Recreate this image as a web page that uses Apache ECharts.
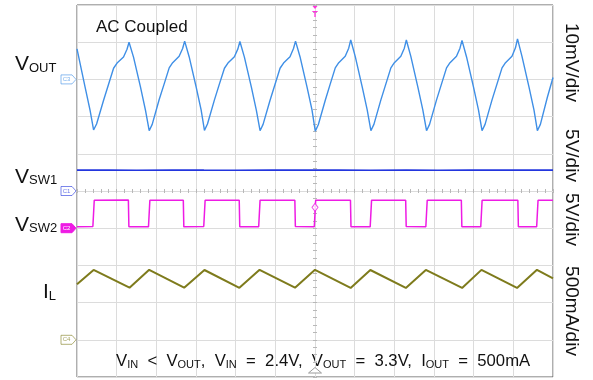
<!DOCTYPE html>
<html><head><meta charset="utf-8">
<script src="https://cdn.jsdelivr.net/npm/echarts@6/dist/echarts.min.js"></script>
<style>html,body{margin:0;padding:0;background:#fff}#c{width:593px;height:380px}</style>
</head><body><div id="c"></div>
<script>
// ---- data (time in horizontal divisions, trigger at t = 0) ----
// VOUT ripple, AC coupled, mV
const vout_mV = [
  [-6.000, 8.2], [-5.796, -2.1], [-5.670, -8.3],
  [-5.582, -13.6], [-5.506, -12.0], [-5.330, -5.6], [-5.204, -1.3], [-5.078, 3.0], [-4.990, 4.4], [-4.827, 6.0], [-4.739, 8.1], [-4.688, 10.0], [-4.575, 6.0], [-4.399, -2.1], [-4.273, -8.3],
  [-4.180, -13.8], [-4.104, -12.1], [-3.928, -5.4], [-3.802, -1.2], [-3.676, 3.1], [-3.588, 4.5], [-3.425, 6.2], [-3.337, 8.3], [-3.286, 10.3], [-3.173, 6.1], [-2.997, -2.0], [-2.871, -8.2],
  [-2.787, -13.7], [-2.711, -12.0], [-2.535, -5.5], [-2.409, -1.2], [-2.283, 3.0], [-2.195, 4.4], [-2.032, 6.1], [-1.944, 8.2], [-1.893, 10.2], [-1.780, 6.0], [-1.604, -2.1], [-1.478, -8.3],
  [-1.385, -13.8], [-1.309, -12.1], [-1.133, -5.6], [-1.007, -1.3], [-0.881, 3.0], [-0.793, 4.4], [-0.630, 6.1], [-0.542, 8.3], [-0.491, 10.3], [-0.378, 6.1], [-0.202, -2.0], [-0.076, -8.2],
  [0.007, -13.9], [0.083, -12.2], [0.259, -5.6], [0.385, -1.2], [0.511, 3.1], [0.599, 4.5], [0.762, 6.2], [0.850, 8.4], [0.901, 10.6], [1.014, 6.2], [1.190, -2.0], [1.316, -8.2],
  [1.409, -13.8], [1.485, -12.1], [1.661, -5.5], [1.787, -1.2], [1.913, 3.1], [2.001, 4.5], [2.164, 6.2], [2.252, 8.4], [2.303, 10.6], [2.416, 6.2], [2.592, -2.0], [2.718, -8.2],
  [2.812, -13.8], [2.888, -12.1], [3.064, -5.5], [3.190, -1.2], [3.316, 3.1], [3.404, 4.5], [3.567, 6.2], [3.655, 8.4], [3.706, 10.5], [3.819, 6.1], [3.995, -2.0], [4.121, -8.2],
  [4.211, -13.8], [4.287, -12.1], [4.463, -5.5], [4.589, -1.2], [4.715, 3.1], [4.803, 4.5], [4.966, 6.2], [5.054, 8.5], [5.105, 10.9], [5.218, 6.2], [5.394, -2.0], [5.520, -8.2],
  [5.606, -13.8], [5.682, -12.1], [5.858, -4.8], [6.000, 0.5]
];
// VSW1, V
const vsw1_V = [
  [-6.0, 2.80], [-5.2, 2.82], [-4.5, 2.79], [-3.6, 2.83], [-2.8, 2.80], [-2.0, 2.78], [-1.1, 2.82], [-0.3, 2.80],
  [0.6, 2.83], [1.4, 2.79], [2.3, 2.81], [3.1, 2.79], [3.9, 2.83], [4.8, 2.80], [5.5, 2.82], [6.0, 2.80]
];
// VSW2, V
const vsw2_V = [
  [-6.000, 0.20],
  [-5.600, 0.22], [-5.565, 3.75], [-4.705, 3.78], [-4.692, 0.20],
  [-4.198, 0.18], [-4.163, 3.76], [-3.320, 3.74], [-3.307, 0.18],
  [-2.805, 0.22], [-2.770, 3.76], [-1.910, 3.77], [-1.897, 0.20],
  [-1.420, 0.19], [-1.385, 3.74], [-0.508, 3.76], [-0.495, 0.22],
  [-0.018, 0.20], [0.017, 3.76], [0.894, 3.75], [0.907, 0.20],
  [1.391, 0.18], [1.426, 3.77], [2.286, 3.76], [2.299, 0.24],
  [2.794, 0.20], [2.829, 3.75], [3.689, 3.76], [3.702, 0.20],
  [4.178, 0.18], [4.213, 3.75], [5.114, 3.76], [5.127, 0.20],
  [5.588, 0.20], [5.623, 3.75], [6.000, 3.76]
];
// IL, mA
const il_mA = [
  [-6.000, 747], [-5.582, 939], [-4.676, 700], [-4.180, 940], [-3.299, 700], [-2.787, 938],
  [-1.906, 698], [-1.397, 940], [-0.504, 700], [0.000, 940], [0.898, 697], [1.395, 938],
  [2.290, 697], [2.794, 939], [3.708, 697], [4.196, 940], [5.093, 697], [5.596, 940], [6.000, 824]
];
const trigLevel_V = 2.8;
const channelNames = [['V', 'OUT'], ['V', 'SW1'], ['V', 'SW2'], ['I', 'L']];
const scaleTexts = ['10mV/div', '5V/div', '5V/div', '500mA/div'];
const noteText = 'AC Coupled';

// ---- display settings ----
const FONT = '"Liberation Sans", Arial, Helvetica, sans-serif';
const CH = {
  vout: { scale: 10, offset: 3, color: '#3f8fe6', tag: 'C3' },
  vsw1: { scale: 5, offset: 0, color: '#2336de', tag: 'C1' },
  vsw2: { scale: 5, offset: -1, color: '#ee1be4', tag: 'C2' },
  il:   { scale: 500, offset: -4, color: '#7e7b1c', tag: 'C4' }
};
const toDiv = (arr, ch) => arr.map(p => [p[0], p[1] / ch.scale + ch.offset]);

const chart = echarts.init(document.getElementById('c'), null, { renderer: 'canvas' });

const tickStyle = { color: '#b8b8b8', width: 1 };
const gridLine = { color: '#dcdcdc', width: 1 };
function xAx(pos, split) {
  return {
    type: 'value', min: -6, max: 6, interval: 1, position: pos,
    axisLabel: { show: false },
    axisLine: { show: true, onZero: true, lineStyle: gridLine },
    axisTick: { show: true, length: 2, lineStyle: tickStyle },
    minorTick: { show: true, splitNumber: 5, length: 2, lineStyle: tickStyle },
    splitLine: { show: split, lineStyle: gridLine },
    minorSplitLine: { show: false }
  };
}
function yAx(pos, split) {
  return {
    type: 'value', min: -5, max: 5, interval: 1, position: pos,
    axisLabel: { show: false },
    axisLine: { show: true, onZero: true, lineStyle: gridLine },
    axisTick: { show: true, length: 2, lineStyle: tickStyle },
    minorTick: { show: true, splitNumber: 5, length: 2, lineStyle: tickStyle },
    splitLine: { show: split, lineStyle: gridLine }
  };
}

chart.setOption({
  animation: false,
  backgroundColor: '#ffffff',
  grid: { left: 77, right: 40, top: 5, bottom: 3, show: true, borderColor: '#5e5e5e', borderWidth: 1, backgroundColor: '#ffffff' },
  xAxis: [xAx('bottom', true), xAx('top', false)],
  yAxis: [yAx('left', true), yAx('right', false)],
  series: [
    { type: 'line', data: toDiv(vout_mV, CH.vout), showSymbol: false, lineStyle: { color: CH.vout.color, width: 1.4 }, z: 3 },
    { type: 'line', data: toDiv(vsw1_V, CH.vsw1), showSymbol: false, lineStyle: { color: CH.vsw1.color, width: 1.6 }, z: 3 },
    { type: 'line', data: toDiv(vsw2_V, CH.vsw2), showSymbol: false, lineStyle: { color: CH.vsw2.color, width: 1.5 }, z: 3 },
    { type: 'line', data: toDiv(il_mA, CH.il), showSymbol: false, lineStyle: { color: CH.il.color, width: 2 }, z: 3 },
    { type: 'scatter', data: toDiv([[0, trigLevel_V]], CH.vsw2), symbol: 'diamond', symbolSize: [6, 8],
      itemStyle: { color: '#ffffff', borderColor: CH.vsw2.color, borderWidth: 1 }, z: 5 }
  ]
});

const px = v => chart.convertToPixel({ gridIndex: 0 }, v);
const g = [];
// note text
g.push({ type: 'text', x: 96, y: 27, style: { text: noteText, font: '17px ' + FONT, fill: '#111', textVerticalAlign: 'middle' } });

// channel names (left)
const nameRich = {
  m: { fontSize: 21, lineHeight: 24, verticalAlign: 'bottom', fontFamily: FONT, color: '#111' },
  s: { fontSize: 13, lineHeight: 14, verticalAlign: 'bottom', fontFamily: FONT, color: '#111' }
};
const nameY = [62.7, 175.4, 223.4, 291];
const nameX = [15, 15, 15, 43];
channelNames.forEach((n, i) => {
  g.push({ type: 'text', x: nameX[i], y: nameY[i], style: { text: '{m|' + n[0] + '}{s|' + n[1] + '}', rich: nameRich, textVerticalAlign: 'middle', fill: '#111' } });
});

// scale labels (right, rotated)
const scaleY = [62.5, 155.5, 219.5, 311];
scaleTexts.forEach((t, i) => {
  g.push({ type: 'text', x: 571, y: scaleY[i], rotation: -Math.PI / 2,
    style: { text: t, font: '19px ' + FONT, fill: '#111', textAlign: 'center', textVerticalAlign: 'middle' } });
});

// bottom condition text
const botRich = {
  m: { fontSize: 16.7, lineHeight: 20, verticalAlign: 'bottom', fontFamily: FONT, color: '#111' },
  s: { fontSize: 11, lineHeight: 12, verticalAlign: 'bottom', fontFamily: FONT, color: '#111' }
};
const botText = '{m|V}{s|IN}{m|  <  V}{s|OUT}{m|,  V}{s|IN}{m|  =  2.4V,  V}{s|OUT}{m|  =  3.3V,  I}{s|OUT}{m|  =  500mA}';
g.push({ type: 'text', x: 116, y: 360, style: { text: botText, rich: botRich, textVerticalAlign: 'middle', fill: '#111' } });

// ground markers
const gLeft = px([-6, 0])[0];
[CH.vout, CH.vsw1, CH.vsw2, CH.il].forEach(ch => {
  const y = px([-6, ch.offset])[1];
  const filled = ch.tag === 'C2';
  g.push({ type: 'polygon', x: gLeft, y: y, z: 10,
    shape: { points: [[-16, -4.5], [-5, -4.5], [-1, 0], [-5, 4.5], [-16, 4.5]] },
    style: { fill: filled ? ch.color : '#ffffff', stroke: ch.color, lineWidth: 1, opacity: filled ? 1 : 0.6 } });
  g.push({ type: 'text', x: gLeft - 10.5, y: y, z: 11,
    style: { text: ch.tag, font: '6px ' + FONT, fill: filled ? '#ffffff' : ch.color, textAlign: 'center', textVerticalAlign: 'middle', opacity: filled ? 1 : 0.7 } });
});

// trigger position markers
const trigTop = px([0, 5]);
const trigBot = px([0, -5]);
g.push({ type: 'polygon', x: trigTop[0], y: trigTop[1], z: 10, shape: { points: [[-2.5, 1], [2.5, 1], [0, 4]] }, style: { fill: '#ff33dd' } });
g.push({ type: 'text', x: trigTop[0], y: trigTop[1] + 10, z: 10, style: { text: 'T', font: 'bold 9px ' + FONT, fill: '#ff33dd', textAlign: 'center', textVerticalAlign: 'middle' } });
g.push({ type: 'polygon', x: trigBot[0], y: trigBot[1], z: 10, shape: { points: [[-6.5, -4], [6.5, -4], [0, -9.5]] }, style: { fill: '#ffffff', stroke: '#9a9a9a', lineWidth: 1 } });

chart.setOption({ graphic: g });
</script></body></html>
